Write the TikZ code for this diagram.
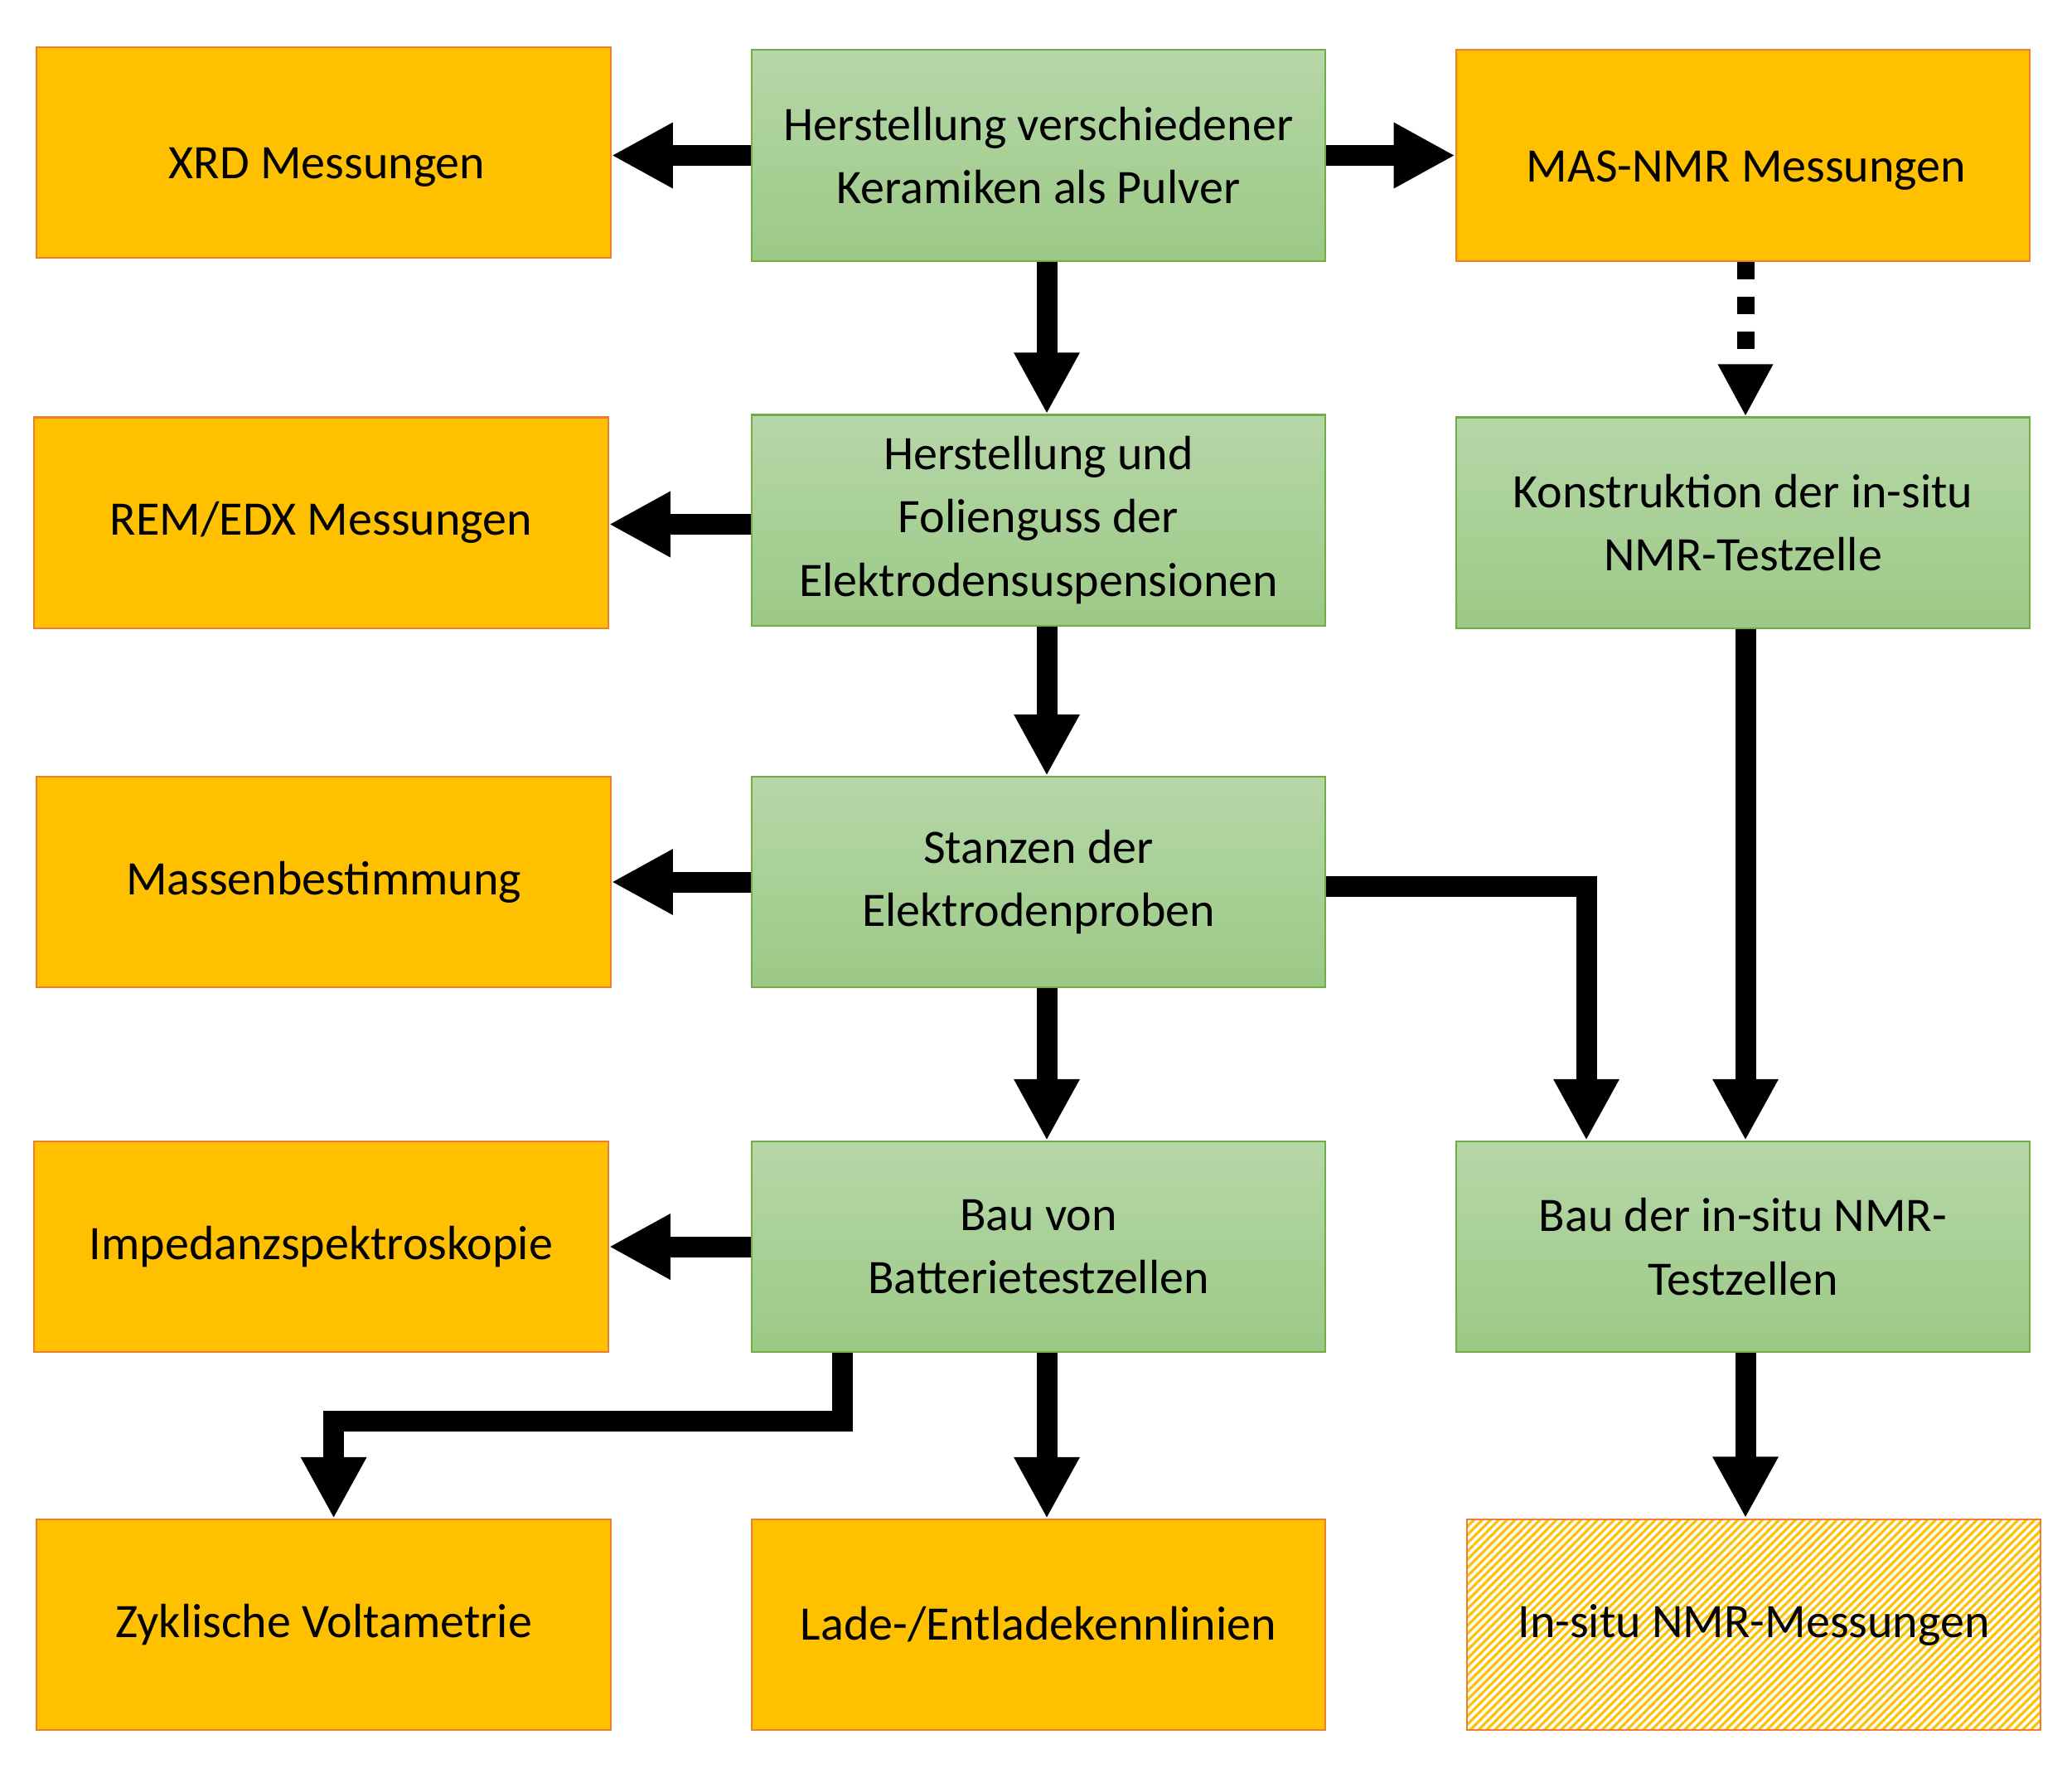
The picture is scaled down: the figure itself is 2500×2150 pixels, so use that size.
\documentclass[tikz,border=0pt]{standalone}
\usepackage{fontspec}
\setmainfont{Carlito}
\usetikzlibrary{arrows.meta,patterns.meta,calc}
\definecolor{orfill}{HTML}{FFC000}
\definecolor{orline}{HTML}{ED7D31}
\definecolor{grline}{HTML}{70AD47}
\definecolor{grtop}{HTML}{B6D7A8}
\definecolor{grbot}{HTML}{9CC986}
\tikzset{
  box/.style={rectangle, minimum width=6.92cm, minimum height=2.54cm, inner sep=0pt,
    align=center, font=\fontsize{16.5}{21.7}\selectfont, line width=0.6pt},
  obox/.style={box, fill=orfill, draw=orline},
  gbox/.style={box, top color=grtop, bottom color=grbot, draw=grline},
  hbox/.style={box, draw=orline, pattern={Lines[angle=45,distance=2pt,line width=0.9pt]}, pattern color=orfill},
  arr/.style={draw=black, line width=0.25cm, -{Triangle[width=0.74cm,length=0.74cm]}},
  darr/.style={draw=black, line width=0.21cm, dash pattern=on 0.21cm off 0.21cm,
    -{Triangle[width=0.62cm,length=0.63cm]}}
}
\newcommand{\lowtext}[1]{\hspace*{0.08cm}\raisebox{-0.18cm}[\height][\depth]{#1}}
\begin{document}
\begin{tikzpicture}[x=0.01cm,y=-0.01cm]
\useasboundingbox (0,0) rectangle (2500,2150);
% left column
\node[obox] (xrd) at (390.6,184) {\lowtext{XRD Messungen}};
\node[obox] (rem) at (387.5,630.5) {REM/EDX Messungen};
\node[obox] (mas2) at (390.6,1064) {Massenbestimmung};
\node[obox] (imp) at (387.5,1504) {Impedanzspektroskopie};
\node[obox] (zyk) at (390.6,1960) {Zyklische Voltametrie};
% center column
\node[gbox] (h1) at (1253,187.5) {Herstellung verschiedener\\Keramiken als Pulver};
\node[gbox] (h2) at (1253,627.5) {Herstellung und\\Folienguss der\\Elektrodensuspensionen};
\node[gbox] (st) at (1253,1064) {Stanzen der\\Elektrodenproben};
\node[gbox] (bb) at (1253,1504) {Bau von\\Batterietestzellen};
\node[obox] (lade) at (1253,1960) {Lade-/Entladekennlinien};
% right column
\node[obox] (mas) at (2103,187.5) {\lowtext{MAS-NMR Messungen}};
\node[gbox] (kon) at (2103,630.5) {Konstruktion der in-situ\\NMR-Testzelle};
\node[gbox] (bi) at (2103,1504) {Bau der in-situ NMR-\\Testzellen};
\node[hbox] (ins) at (2116,1960) {In-situ NMR-Messungen};
% horizontal arrows
\draw[arr] (h1.west) -- (h1.west -| xrd.east);
\draw[arr] (h1.east) -- (h1.east -| mas.west);
\draw[arr] ($(h2.west)+(0,5)$) -- ($(h2.west -| rem.east)+(0,5)$);
\draw[arr] (st.west) -- (st.west -| mas2.east);
\draw[arr] (bb.west) -- (bb.west -| imp.east);
% vertical center arrows
\draw[arr] ($(h1.south)+(10,0)$) -- ($(h2.north)+(10,0)$);
\draw[arr] ($(h2.south)+(10,0)$) -- ($(st.north)+(10,0)$);
\draw[arr] ($(st.south)+(10,0)$) -- ($(bb.north)+(10,0)$);
\draw[arr] ($(bb.south)+(10,0)$) -- ($(lade.north)+(10,0)$);
% elbows
\draw[arr] ($(st.east)+(0,5)$) -| ($(bi.north)+(-189,0)$);
\draw[arr] ($(bb.south)+(-237,0)$) |- ($(zyk.north)+(12,-117)$) -- ($(zyk.north)+(12,0)$);
% right column arrows
\draw[darr] ($(mas.south)+(3,0)$) -- ($(kon.north)+(3,0)$);
\draw[arr] ($(kon.south)+(3,0)$) -- ($(bi.north)+(3,0)$);
\draw[arr] ($(bi.south)+(3,0)$) -- ($(ins.north)+(-10,0)$);
\end{tikzpicture}
\end{document}
